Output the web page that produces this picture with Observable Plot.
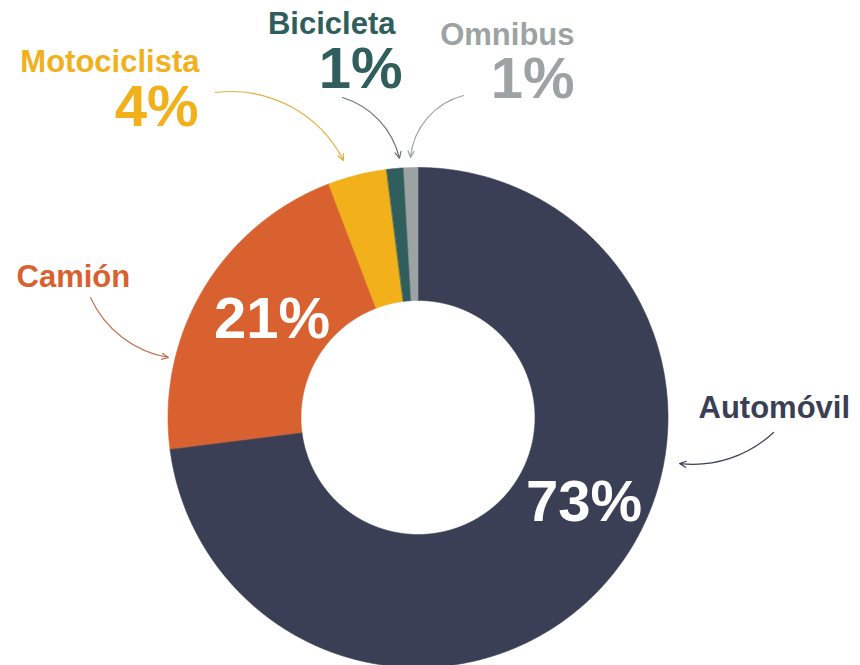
<!DOCTYPE html>
<html><head><meta charset="utf-8">
<script src="https://cdn.jsdelivr.net/npm/d3@7"></script>
<script src="https://cdn.jsdelivr.net/npm/@observablehq/plot@0.6"></script>
<style>html,body{margin:0;padding:0;background:#fff;}</style>
</head><body><div id="chart"></div>
<script>
// ---- data ----
const categories = ["Automóvil", "Camión", "Motociclista", "Bicicleta", "Omnibus"];
const shares = [73, 21.2, 3.8, 1.1, 0.9];
const shareLabels = ["73%", "21%", "4%", "1%", "1%"];
const colors = ["#3b3f56", "#d9602f", "#f2b01b", "#2f5e5c", "#9ca3a2"];

// ---- layout (radius units, center at 0,0, y up) ----
const innerRatio = 0.468;
const nameLayout = [
  {category: "Automóvil",    x: 1.122,  y: 0.038, anchor: "start"},
  {category: "Camión",       x: -1.606, y: 0.562, anchor: "start"},
  {category: "Motociclista", x: -0.874, y: 1.422, anchor: "end"},
  {category: "Bicicleta",    x: -0.09,  y: 1.572, anchor: "end"},
  {category: "Omnibus",      x: 0.626,  y: 1.53,  anchor: "end"}
];
const shareLayout = [
  {category: "Automóvil",    x: 0.664,  y: -0.338, anchor: "middle", inside: true},
  {category: "Camión",       x: -0.584, y: 0.392,  anchor: "middle", inside: true},
  {category: "Motociclista", x: -0.878, y: 1.24,   anchor: "end"},
  {category: "Bicicleta",    x: -0.062, y: 1.392,  anchor: "end"},
  {category: "Omnibus",      x: 0.626,  y: 1.352,  anchor: "end"}
];
const arrowLayout = [
  {category: "Automóvil",    x1: 1.422, y1: -0.06, x2: 1.046, y2: -0.184, bend: 25},
  {category: "Camión",       x1: -1.31, y1: 0.48,  x2: -0.998, y2: 0.24,  bend: -28},
  {category: "Motociclista", x1: -0.81, y1: 1.3,   x2: -0.298, y2: 1.028, bend: 35},
  {category: "Bicicleta",    x1: -0.302, y1: 1.28, x2: -0.074, y2: 1.036, bend: 30},
  {category: "Omnibus",      x1: 0.182, y1: 1.288, x2: -0.03,  y2: 1.04,  bend: -35}
];

// ---- build donut polygons from shares ----
const total = d3.sum(shares);
const colorOf = new Map(categories.map((c, i) => [c, colors[i]]));
const labelOf = new Map(categories.map((c, i) => [c, shareLabels[i]]));
const ring = [];
let acc = 0;
categories.forEach((c, i) => {
  const a0 = acc / total * 2 * Math.PI;
  acc += shares[i];
  const a1 = acc / total * 2 * Math.PI;
  const n = Math.max(2, Math.ceil((a1 - a0) / (0.25 * Math.PI / 180)));
  for (let k = 0; k <= n; k++) {
    const a = a0 + (a1 - a0) * k / n;
    ring.push({category: c, x: Math.sin(a), y: Math.cos(a)});
  }
  for (let k = n; k >= 0; k--) {
    const a = a0 + (a1 - a0) * k / n;
    ring.push({category: c, x: innerRatio * Math.sin(a), y: innerRatio * Math.cos(a)});
  }
});

const FONT = "'Liberation Sans', Arial, Helvetica, sans-serif";
const marks = [
  Plot.line(ring, {x: "x", y: "y", z: "category", fill: "category", stroke: "category",
    strokeWidth: 0.6, curve: "linear-closed"})
];
nameLayout.forEach(d => {
  marks.push(Plot.text([d], {x: "x", y: "y", text: d => d.category, fill: colorOf.get(d.category),
    textAnchor: d.anchor, fontSize: 31, fontWeight: "bold", fontFamily: FONT}));
});
shareLayout.forEach(d => {
  marks.push(Plot.text([d], {x: "x", y: "y", text: d => labelOf.get(d.category),
    fill: d.inside ? "#ffffff" : colorOf.get(d.category),
    textAnchor: d.anchor, fontSize: 58, fontWeight: "bold", fontFamily: FONT}));
});
const arrowColors = {"Automóvil": "#3b3f56", "Camión": "#c0704f", "Motociclista": "#e0b043",
  "Bicicleta": "#66777b", "Omnibus": "#9ca3a2"};
arrowLayout.forEach(d => {
  marks.push(Plot.arrow([d], {x1: "x1", y1: "y1", x2: "x2", y2: "y2", bend: d.bend,
    stroke: arrowColors[d.category], strokeWidth: 1.2, headLength: 9, headAngle: 50}));
});

const chart = Plot.plot({
  width: 860, height: 665,
  margin: 0,
  x: {domain: [-1.67, 1.77], range: [0, 860], axis: null},
  y: {domain: [-0.992, 1.668], range: [665, 0], axis: null},
  color: {domain: categories, range: colors},
  style: {background: "#ffffff"},
  marks
});
document.getElementById("chart").append(chart);
</script>
</body></html>
